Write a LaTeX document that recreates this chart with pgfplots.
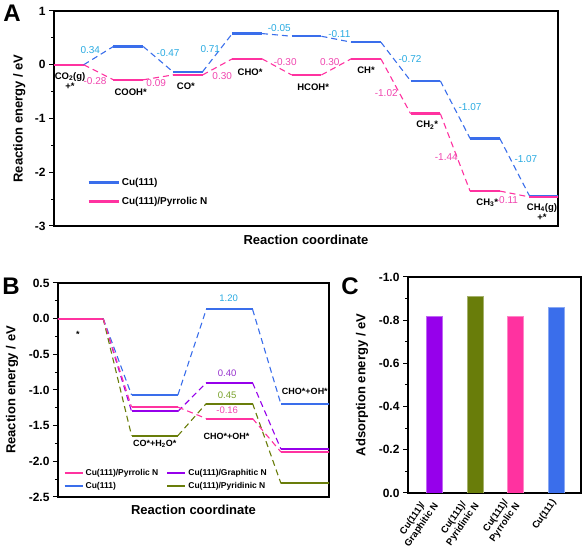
\documentclass[border=0pt]{standalone}
\usepackage{fontspec}
\setmainfont{Liberation Sans}
\usepackage{pgfplots}
\pgfplotsset{compat=1.18}
\definecolor{cublue}{RGB}{58,110,235}
\definecolor{pyrrol}{RGB}{255,50,160}
\definecolor{graph}{RGB}{150,0,235}
\definecolor{pyrid}{RGB}{105,125,10}
\definecolor{lblcyan}{RGB}{40,170,225}
\definecolor{lblpink}{RGB}{240,70,175}
\definecolor{lblpurple}{RGB}{150,50,205}
\definecolor{lblgreen}{RGB}{120,160,40}
\newcommand{\fs}[1]{\fontsize{#1}{#1}\selectfont}
\pgfplotsset{
  mystyle/.style={
    scale only axis, anchor=south west,
    axis line style={line width=1.1pt},
    tick align=outside, ytick pos=left, xtick pos=bottom,
    major tick length=5pt, minor tick length=3pt,
    every tick/.style={black, line width=1pt},
    tick label style={font=\fs{12}\bfseries},
    label style={font=\fs{13}\bfseries},
    /pgf/number format/assume math mode=true,
    unbounded coords=jump,
  },
  lvl/.style={line width=2.4pt, solid},
  con/.style={line width=1.1pt, dash pattern=on 6pt off 4pt},
}
\begin{document}
\begin{tikzpicture}
\path[use as bounding box] (0,0) rectangle (584pt,548pt);
% ---------------- Panel A ----------------
\begin{axis}[mystyle, at={(54pt,322pt)}, width=504pt, height=215pt,
  xmin=-0.25, xmax=8.23, ymin=-3, ymax=1,
  xtick=\empty, ytick={-3,-2,-1,0,1}, minor y tick num=1,
  xlabel={Reaction coordinate}, ylabel={Reaction energy / eV},
  xlabel style={at={(axis description cs:0.5,-0.065)}, anchor=center},
  ylabel style={at={(axis description cs:-0.069,0.5)}, anchor=center},
  legend style={at={(axis description cs:0.066,0.232)}, anchor=north west, draw=none, fill=none,
    font=\fs{10}\bfseries, row sep=6pt, inner sep=0pt},
  legend cell align=left,
  legend image code/.code={\draw[#1] (0pt,0pt) -- (30pt,0pt);},
]
\addplot[cublue, lvl] coordinates {(-0.25,0)(0.25,0) (0.5,nan) (0.75,0.34)(1.25,0.34) (1.5,nan) (1.75,-0.13)(2.25,-0.13) (2.5,nan) (2.75,0.58)(3.25,0.58) (3.5,nan) (3.75,0.53)(4.25,0.53) (4.5,nan) (4.75,0.42)(5.25,0.42) (5.5,nan) (5.75,-0.30)(6.25,-0.30) (6.5,nan) (6.75,-1.37)(7.25,-1.37) (7.5,nan) (7.75,-2.44)(8.3,-2.44)};
\addlegendentry{Cu(111)}
\addplot[pyrrol, lvl] coordinates {(-0.25,0)(0.25,0) (0.5,nan) (0.75,-0.28)(1.25,-0.28) (1.5,nan) (1.75,-0.19)(2.25,-0.19) (2.5,nan) (2.75,0.11)(3.25,0.11) (3.5,nan) (3.75,-0.19)(4.25,-0.19) (4.5,nan) (4.75,0.11)(5.25,0.11) (5.5,nan) (5.75,-0.91)(6.25,-0.91) (6.5,nan) (6.75,-2.35)(7.25,-2.35) (7.5,nan) (7.75,-2.46)(8.3,-2.46)};
\addlegendentry{Cu(111)/Pyrrolic N}
\addplot[cublue, con, forget plot] coordinates {(0.25,0)(0.75,0.34) (1,nan) (1.25,0.34)(1.75,-0.13) (2,nan) (2.25,-0.13)(2.75,0.58) (3,nan) (3.25,0.58)(3.75,0.53) (4,nan) (4.25,0.53)(4.75,0.42) (5,nan) (5.25,0.42)(5.75,-0.30) (6,nan) (6.25,-0.30)(6.75,-1.37) (7,nan) (7.25,-1.37)(7.75,-2.44)};
\addplot[pyrrol, con, forget plot] coordinates {(0.25,0)(0.75,-0.28) (1,nan) (1.25,-0.28)(1.75,-0.19) (2,nan) (2.25,-0.19)(2.75,0.11) (3,nan) (3.25,0.11)(3.75,-0.19) (4,nan) (4.25,-0.19)(4.75,0.11) (5,nan) (5.25,0.11)(5.75,-0.91) (6,nan) (6.25,-0.91)(6.75,-2.35) (7,nan) (7.25,-2.35)(7.75,-2.46)};
% value labels
\begin{scope}[every node/.style={font=\fs{10}, text=lblcyan}]
\node at (axis cs:0.36,0.27) {0.34};
\node at (axis cs:1.67,0.22) {-0.47};
\node at (axis cs:2.38,0.29) {0.71};
\node at (axis cs:3.54,0.68) {-0.05};
\node at (axis cs:4.55,0.57) {-0.11};
\node at (axis cs:5.74,0.11) {-0.72};
\node at (axis cs:6.75,-0.79) {-1.07};
\node at (axis cs:7.69,-1.75) {-1.07};
\end{scope}
\begin{scope}[every node/.style={font=\fs{10}, text=lblpink}]
\node at (axis cs:0.44,-0.30) {-0.28};
\node at (axis cs:1.47,-0.34) {0.09};
\node at (axis cs:2.58,-0.21) {0.30};
\node at (axis cs:3.64,0.05) {-0.30};
\node at (axis cs:4.39,0.05) {0.30};
\node at (axis cs:5.34,-0.53) {-1.02};
\node at (axis cs:6.35,-1.72) {-1.44};
\node at (axis cs:7.37,-2.52) {-0.11};
\end{scope}
\begin{scope}[every node/.style={font=\fs{9.5}\bfseries, align=center, inner sep=0pt}]
\node at (axis cs:0.02,-0.30) {CO\textsubscript{2}(g)\\[1pt]+*};
\node at (axis cs:1.04,-0.51) {COOH*};
\node at (axis cs:1.97,-0.40) {CO*};
\node at (axis cs:3.05,-0.13) {CHO*};
\node at (axis cs:4.11,-0.41) {HCOH*};
\node at (axis cs:5.0,-0.11) {CH*};
\node at (axis cs:6.03,-1.12) {CH\textsubscript{2}*};
\node at (axis cs:7.04,-2.57) {CH\textsubscript{3}*};
\node at (axis cs:7.96,-2.74) {CH\textsubscript{4}(g)\\[1pt]+*};
\end{scope}
\end{axis}
% ---------------- Panel B ----------------
\begin{axis}[mystyle, at={(58pt,51pt)}, width=271pt, height=214pt,
  xmin=-0.295, xmax=3.333, ymin=-2.5, ymax=0.5,
  xtick=\empty, ytick={-2.5,-2.0,-1.5,-1.0,-0.5,0.0,0.5}, minor y tick num=1,
  yticklabel style={/pgf/number format/.cd, fixed, fixed zerofill, precision=1},
  xlabel={Reaction coordinate}, ylabel={Reaction energy / eV},
  xlabel style={at={(axis description cs:0.5,-0.061)}, anchor=center},
  ylabel style={at={(axis description cs:-0.17,0.5)}, anchor=center},
  legend columns=2,
  legend style={at={(axis description cs:0.02,0.14)}, anchor=north west, draw=none, fill=none,
    font=\fs{8.5}\bfseries, row sep=1pt, inner sep=0pt,
    /tikz/every even column/.append style={column sep=6pt}},
  legend cell align=left,
  legend image code/.code={\draw[#1] (0pt,0pt) -- (18pt,0pt);},
]
\addplot[graph, lvl, line width=2pt, forget plot] coordinates {(-0.31,0)(0.31,0) (0.5,nan) (0.69,-1.30)(1.31,-1.30) (1.5,nan) (1.69,-0.90)(2.31,-0.90) (2.5,nan) (2.69,-1.83)(3.4,-1.83)};
\addplot[cublue, lvl, line width=2pt, forget plot] coordinates {(-0.31,0)(0.31,0) (0.5,nan) (0.69,-1.07)(1.31,-1.07) (1.5,nan) (1.69,0.13)(2.31,0.13) (2.5,nan) (2.69,-1.20)(3.4,-1.20)};
\addplot[pyrid, lvl, line width=2pt, forget plot] coordinates {(-0.31,0)(0.31,0) (0.5,nan) (0.69,-1.64)(1.31,-1.64) (1.5,nan) (1.69,-1.19)(2.31,-1.19) (2.5,nan) (2.69,-2.31)(3.4,-2.31)};
\addplot[pyrrol, lvl, line width=2pt, forget plot] coordinates {(-0.31,0)(0.31,0) (0.5,nan) (0.69,-1.24)(1.31,-1.24) (1.5,nan) (1.69,-1.40)(2.31,-1.40) (2.5,nan) (2.69,-1.87)(3.4,-1.87)};
\addplot[graph, con, forget plot] coordinates {(0.31,0)(0.69,-1.30) (0.8,nan) (1.31,-1.30)(1.69,-0.90) (1.8,nan) (2.31,-0.90)(2.69,-1.83)};
\addplot[cublue, con, forget plot] coordinates {(0.31,0)(0.69,-1.07) (0.8,nan) (1.31,-1.07)(1.69,0.13) (1.8,nan) (2.31,0.13)(2.69,-1.20)};
\addplot[pyrid, con, forget plot] coordinates {(0.31,0)(0.69,-1.64) (0.8,nan) (1.31,-1.64)(1.69,-1.19) (1.8,nan) (2.31,-1.19)(2.69,-2.31)};
\addplot[pyrrol, con, forget plot] coordinates {(0.31,0)(0.69,-1.24) (0.8,nan) (1.31,-1.24)(1.69,-1.40) (1.8,nan) (2.31,-1.40)(2.69,-1.87)};
\addlegendimage{pyrrol, line width=2pt}
\addlegendentry{Cu(111)/Pyrrolic N}
\addlegendimage{graph, line width=2pt}
\addlegendentry{Cu(111)/Graphitic N}
\addlegendimage{cublue, line width=2pt}
\addlegendentry{Cu(111)}
\addlegendimage{pyrid, line width=2pt}
\addlegendentry{Cu(111)/Pyridinic N}
\node[font=\fs{9.5}, text=lblcyan] at (axis cs:1.99,0.28) {1.20};
\node[font=\fs{9.5}, text=lblpurple] at (axis cs:1.97,-0.76) {0.40};
\node[font=\fs{9.5}, text=lblgreen] at (axis cs:1.97,-1.07) {0.45};
\node[font=\fs{9.5}, text=lblpink] at (axis cs:1.97,-1.29) {-0.16};
\begin{scope}[every node/.style={font=\fs{9}\bfseries, inner sep=0pt}]
\node at (axis cs:1.0,-1.75) {CO*+H\textsubscript{2}O*};
\node at (axis cs:1.96,-1.65) {CHO*+OH*};
\node at (axis cs:3.01,-1.02) {CHO*+OH*};
\node at (axis cs:-0.03,-0.22) {*};
\end{scope}
\end{axis}
% ---------------- Panel C ----------------
\begin{axis}[mystyle, at={(408pt,55pt)}, width=173pt, height=216pt,
  xmin=0.361, xmax=4.61, ymin=-1, ymax=0, y dir=reverse,
  ytick={-1.0,-0.8,-0.6,-0.4,-0.2,0.0}, minor y tick num=1,
  yticklabel style={/pgf/number format/.cd, fixed, fixed zerofill, precision=1},
  xtick={1,2,3,4},
  xticklabels={{Cu(111)/\\Graphitic N},{Cu(111)/\\Pyridinic N},{Cu(111)/\\Pyrrolic N},{Cu(111)}},
  xticklabel style={rotate=55, anchor=east, align=center, font=\fontsize{9.5}{11}\selectfont\bfseries},
  major x tick style={draw=none},
  ylabel={Adsorption energy / eV},
  ylabel style={at={(axis description cs:-0.266,0.5)}, anchor=center},
  ybar, bar width=16pt, bar shift=0pt,
]
\addplot[fill=graph, draw=graph!60, bar shift=0pt] coordinates {(1,-0.82)};
\addplot[fill=pyrid, draw=pyrid!60, bar shift=0pt] coordinates {(2,-0.91)};
\addplot[fill=pyrrol, draw=pyrrol!60, bar shift=0pt] coordinates {(3,-0.82)};
\addplot[fill=cublue, draw=cublue!60, bar shift=0pt] coordinates {(4,-0.86)};
\end{axis}
% panel letters
\node[font=\fs{24}\bfseries] at (12pt,535pt) {A};
\node[font=\fs{24}\bfseries] at (11pt,262pt) {B};
\node[font=\fs{24}\bfseries] at (350pt,262pt) {C};
\end{tikzpicture}
\end{document}
